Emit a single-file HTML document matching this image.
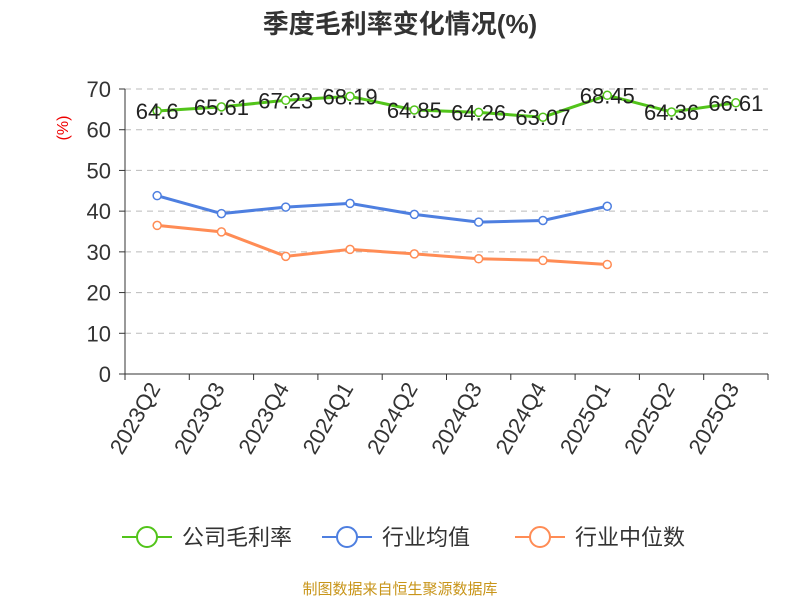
<!DOCTYPE html>
<html><head><meta charset="utf-8"><style>
body{margin:0;background:#fff;}
svg{display:block;font-family:"Liberation Sans","Noto Sans CJK SC",sans-serif;}
</style></head><body>
<svg id="chart" width="800" height="600">
<text x="400" y="33" text-anchor="middle" font-size="26" font-weight="bold" fill="#333">季度毛利率变化情况(%)</text>
<text x="68" y="128" font-size="16" fill="#e00" transform="rotate(-90 68 128)" text-anchor="middle">(%)</text>
<g id="grid"></g><g id="axes"></g><g id="series"></g>
<g id="legend"></g>
<text x="400" y="594" text-anchor="middle" font-size="15" fill="#c8951a">制图数据来自恒生聚源数据库</text>
</svg>
<script>
const categories=["2023Q2","2023Q3","2023Q4","2024Q1","2024Q2","2024Q3","2024Q4","2025Q1","2025Q2","2025Q3"];
const grossMargin=[64.6,65.61,67.23,68.19,64.85,64.26,63.07,68.45,64.36,66.61];
const industryAvg=[43.8,39.4,41.0,41.9,39.2,37.3,37.7,41.2,null,null];
const industryMedian=[36.5,34.9,28.9,30.6,29.5,28.3,27.9,26.9,null,null];
const yTicks=[0,10,20,30,40,50,60,70];
const seriesNames=["公司毛利率","行业均值","行业中位数"];
const colors=["#52c41a","#4e7fe0","#ff8c55"];
const NS="http://www.w3.org/2000/svg";
const x0=125,x1=768,y0=374,y1=89;
const band=(x1-x0)/categories.length;
const xs=i=>x0+band*(i+0.5);
const ys=v=>y0-(v/70)*(y0-y1);
function mk(tag,attrs,parent){const e=document.createElementNS(NS,tag);for(const k in attrs)e.setAttribute(k,attrs[k]);parent.appendChild(e);return e;}
const grid=document.getElementById('grid'),axes=document.getElementById('axes'),ser=document.getElementById('series'),leg=document.getElementById('legend');
yTicks.forEach(t=>{
 if(t>0){const l=mk('line',{x1:x0,x2:x1,y1:ys(t),y2:ys(t),stroke:'#bbb','stroke-dasharray':'6,5'},grid);
 }
 const tx=mk('text',{x:x0-14,y:ys(t)+8,'text-anchor':'end','font-size':22,fill:'#333'},axes);tx.textContent=t;
 
 mk('line',{x1:x0-6,x2:x0,y1:ys(t),y2:ys(t),stroke:'#333'},axes);
});
const ya=mk('line',{x1:x0,x2:x0,y1:y1,y2:y0,stroke:'#333'},axes);

const xa=mk('line',{x1:x0,x2:x1,y1:y0,y2:y0,stroke:'#333'},axes);

for(let i=0;i<=categories.length;i++)mk('line',{x1:x0+band*i,x2:x0+band*i,y1:y0,y2:y0+6,stroke:'#333'},axes);
categories.forEach((c,i)=>{const x=xs(i)+4,y=y0+14;
 const t=mk('text',{x:x,y:y,'text-anchor':'end','font-size':22,fill:'#333',transform:`rotate(-60 ${x} ${y})`},axes);t.textContent=c;
 });
[grossMargin,industryAvg,industryMedian].forEach((arr,si)=>{
 let d='';arr.forEach((v,i)=>{if(v==null)return;d+=(d?'L':'M')+xs(i)+','+ys(v);});
 const p=mk('path',{d:d,fill:'none',stroke:colors[si],'stroke-width':3},ser);
 
 arr.forEach((v,i)=>{if(v==null)return;
  const c=mk('circle',{cx:xs(i),cy:ys(v),r:4,fill:'#fff',stroke:colors[si],'stroke-width':1.5},ser);
  
  if(si===0){const t=mk('text',{x:xs(i),y:ys(v)+8,'text-anchor':'middle','font-size':22,fill:'#222'},ser);t.textContent=v;
   }
 });
});
const lx=[122,322,515];
seriesNames.forEach((n,i)=>{
 const g=mk('g',{},leg);
 mk('line',{x1:lx[i],x2:lx[i]+50,y1:537,y2:537,stroke:colors[i],'stroke-width':2},g);
 mk('circle',{cx:lx[i]+25,cy:537,r:10,fill:'#fff',stroke:colors[i],'stroke-width':2},g);
 const t=mk('text',{x:lx[i]+60,y:545,'font-size':22,fill:'#333'},g);t.textContent=n;
});
</script>
</body></html>
